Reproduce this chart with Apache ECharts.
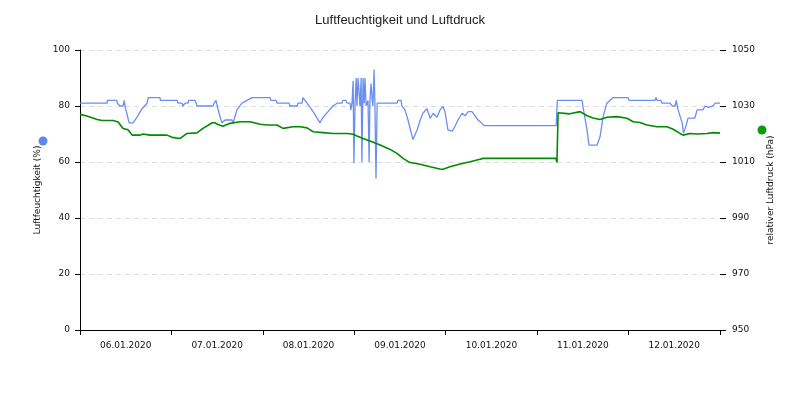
<!DOCTYPE html>
<html>
<head>
<meta charset="utf-8">
<script src="https://cdn.jsdelivr.net/npm/echarts@6/dist/echarts.min.js"></script>
<style>html,body{margin:0;padding:0;background:#fff}#c{width:800px;height:400px}</style>
</head>
<body>
<div id="c"></div>
<script>
// Day labels (category axis, one per day)
var dayLabels = ['06.01.2020','07.01.2020','08.01.2020','09.01.2020','10.01.2020','11.01.2020','12.01.2020'];
var leftTicks = [0, 20, 40, 60, 80, 100];
var rightTicks = [950, 970, 990, 1010, 1030, 1050];

// Humidity: hours since 06.01.2020 00:00 and values (%)
var humHours = [0,7.1,7.2,9.7,9.8,10.2,10.5,11.3,11.6,11.8,12.9,13.9,15.0,15.8,16.3,16.8,17.6,17.9,21.0,21.1,25.5,25.7,26.8,27.0,27.6,28.4,28.5,30.2,30.5,30.7,34.9,35.2,35.7,36.2,37.0,37.3,38.1,39.9,40.2,41.2,42.5,43.8,45.2,49.9,50.1,51.5,51.7,54.9,55.1,57.0,57.2,58.3,58.5,59.6,61.2,63.0,63.8,65.1,66.4,67.5,68.8,69.0,69.8,70.1,70.9,71.1,71.4,71.7,71.9,72.2,72.5,72.7,73.0,73.5,73.8,74.0,74.3,74.6,74.8,75.1,75.6,75.9,76.1,76.4,76.7,76.9,77.2,77.4,77.7,78.0,83.2,83.5,84.3,84.5,85.3,86.1,87.4,88.5,89.3,90.0,91.1,91.9,92.7,93.7,94.5,95.3,95.8,96.6,97.7,98.4,99.2,100.3,101.1,101.9,102.9,103.7,104.5,105.5,106.1,125.0,125.3,129.7,129.9,130.2,131.8,132.0,133.1,133.6,135.7,136.5,137.3,138.3,139.1,139.9,143.9,144.1,150.9,151.2,151.5,152.5,152.8,154.9,155.4,156.2,156.5,157.0,158.1,158.4,159.1,159.6,161.4,162.0,163.5,164.1,164.9,165.4,166.2,166.7,168.0];
var humValues = [81,81,82,82,81,81,80,80,82,80,74,74,76,78,79,79,81,83,83,82,82,81,81,80,81,81,82,82,81,80,80,81,82,79,75,74,75,75,74,78.6,81,82,83,83,82,82,81,81,80,80,81,81,83,81,78,74,76,78,80,81,81,82,82,81,81,78.6,81,89,59.6,81,90,80,90,80,90,60,90,81,90,80,82,60,82,88,82,80,93,82,54,81,81,82,82,80,78.6,75,68,71.4,75,77.4,79,75.6,77.4,76,78.6,79.8,78,71.4,71,72.6,75,77.4,76.5,78,78,76.5,75,73.8,73,73,82,82,81.5,82,82,80,71.4,66,66,69,76,81,82,83,83,82,82,83,82,82,81,81,80,80,82,78.6,73.8,70.3,73,75.7,75.7,78.6,78.6,80,79.5,80,80,81,81];

// Pressure: hours since 06.01.2020 00:00 and values (hPa)
var presHours = [0,1.8,4.5,5.8,8.7,9.2,10.0,11.3,12.6,13.7,15.8,16.5,18.4,22.8,24.2,26.3,28.1,30.7,32.3,34.7,35.4,36.2,37.5,39.4,42.0,44.6,47.3,49.1,51.7,53.3,55.9,57.8,59.6,61.2,63.8,66.4,70.1,71.7,72.7,74.3,76.1,78.8,81.4,83.2,84.8,86.6,89.3,91.9,94.5,95.3,97.1,99.8,102.4,105.0,105.8,124.9,125.2,125.5,126.0,128.6,131.3,133.1,134.7,136.5,138.3,140.9,143.6,145.2,147.0,148.8,151.5,154.1,155.7,157.5,158.3,160.1,161.9,164.6,166.2,168.0];
var presValues = [1027,1026.4,1025.2,1024.8,1024.8,1025,1024.3,1022,1021.5,1019.6,1019.6,1020,1019.6,1019.6,1018.8,1018.4,1020.2,1020.4,1022,1024,1024,1023.4,1022.8,1023.8,1024.4,1024.4,1023.5,1023.2,1023.2,1022,1022.6,1022.6,1022.2,1020.8,1020.5,1020.2,1020.2,1019.9,1019.3,1018.4,1017.5,1016.1,1014.5,1013.1,1011.3,1009.8,1009.2,1008.3,1007.5,1007.4,1008.3,1009.3,1010.1,1011,1011.3,1011.3,1009.8,1027.6,1027,1027.2,1028,1026.5,1025.7,1025.2,1026,1026.2,1025.6,1024.4,1024.1,1023.2,1022.6,1022.6,1021.7,1020.2,1019.6,1020.2,1020,1020.2,1020.5,1020.3];

var humData = humHours.map(function(h, i){ return [h, humValues[i]]; });
var presData = presHours.map(function(h, i){ return [h, presValues[i]]; });

var chart = echarts.init(document.getElementById('c'), null, {renderer: 'canvas'});
var axisFont = {fontFamily: 'DejaVu Sans', fontSize: 9, color: '#111'};
var plain = function (v) { return String(v); };
chart.setOption({
  animation: false,
  backgroundColor: '#fff',
  title: {
    text: 'Luftfeuchtigkeit und Luftdruck',
    left: 'center', top: 9,
    textStyle: {fontFamily: 'Liberation Sans', fontSize: 13, fontWeight: 'normal', color: '#222'}
  },
  grid: {left: 80, right: 80, top: 50, bottom: 70},
  xAxis: [{
    type: 'category',
    data: dayLabels,
    boundaryGap: true,
    axisLine: {lineStyle: {color: '#000', width: 1}},
    axisTick: {show: true, length: 5, lineStyle: {color: '#000'}},
    axisLabel: Object.assign({margin: 11}, axisFont),
    splitLine: {show: false}
  }, {
    type: 'value',
    min: 0, max: 168,
    show: false
  }],
  yAxis: [{
    type: 'value',
    min: leftTicks[0], max: leftTicks[leftTicks.length - 1], interval: 20,
    position: 'left',
    name: 'Luftfeuchtigkeit (%)',
    nameLocation: 'middle', nameRotate: 90, nameGap: 38,
    nameTextStyle: {fontFamily: 'DejaVu Sans', fontSize: 9, color: '#111'},
    axisLine: {show: true, lineStyle: {color: '#000'}},
    axisTick: {show: true, length: 5, lineStyle: {color: '#000'}},
    axisLabel: Object.assign({margin: 10, formatter: plain}, axisFont),
    splitLine: {show: true, lineStyle: {color: '#ddd', type: [5, 4]}}
  }, {
    type: 'value',
    min: rightTicks[0], max: rightTicks[rightTicks.length - 1], interval: 20,
    position: 'right',
    name: 'relativer Luftdruck (hPa)',
    nameLocation: 'middle', nameRotate: 90, nameGap: 45,
    nameTextStyle: {fontFamily: 'DejaVu Sans', fontSize: 9, color: '#111'},
    axisLine: {show: false},
    axisTick: {show: true, length: 6, lineStyle: {color: '#000'}},
    axisLabel: Object.assign({margin: 12, formatter: plain}, axisFont),
    splitLine: {show: false}
  }],
  graphic: [
    {type: 'circle', shape: {cx: 43, cy: 141, r: 4.5}, style: {fill: '#5f86ec'}},
    {type: 'circle', shape: {cx: 762, cy: 130, r: 4.5}, style: {fill: '#0a9a0a'}}
  ],
  series: [{
    name: 'Luftfeuchtigkeit',
    type: 'line',
    xAxisIndex: 1, yAxisIndex: 0,
    data: humData,
    showSymbol: false, symbol: 'none',
    lineStyle: {color: '#6b8ff0', width: 1.3},
    itemStyle: {color: '#6b8ff0'},
    z: 3
  }, {
    name: 'Luftdruck',
    type: 'line',
    xAxisIndex: 1, yAxisIndex: 1,
    data: presData,
    showSymbol: false, symbol: 'none',
    lineStyle: {color: '#008a00', width: 1.6},
    itemStyle: {color: '#008a00'},
    z: 4
  }]
});
</script>
</body>
</html>
